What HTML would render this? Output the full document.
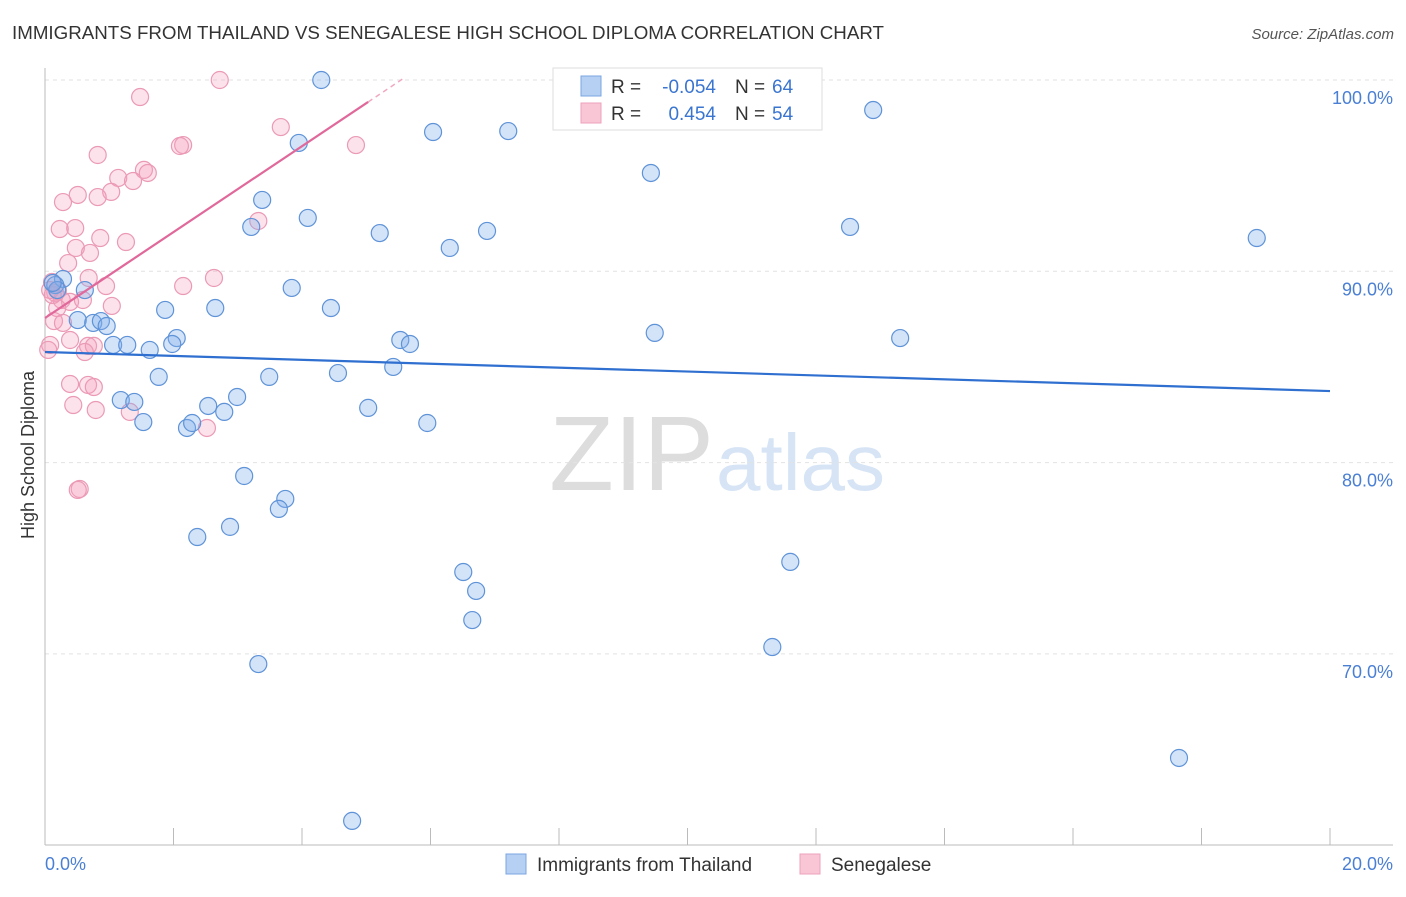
<!DOCTYPE html>
<html><head><meta charset="utf-8"><style>
body{margin:0;background:#fff;font-family:"Liberation Sans",sans-serif}
svg text{font-family:"Liberation Sans",sans-serif}
</style></head><body>
<svg id="c" width="1406" height="892">
<text x="12" y="39" font-size="18" fill="#333" textLength="872" lengthAdjust="spacingAndGlyphs">IMMIGRANTS FROM THAILAND VS SENEGALESE HIGH SCHOOL DIPLOMA CORRELATION CHART</text>
<text x="1394" y="39" font-size="15" fill="#555" text-anchor="end" font-style="italic">Source: ZipAtlas.com</text>
<text x="714" y="490" font-size="106" fill="#ddd" text-anchor="end" font-family="Liberation Serif">ZIP</text>
<text x="716" y="490" font-size="80" fill="#d6e4f5">atlas</text>
<text transform="translate(34,455) rotate(-90)" font-size="18" fill="#333" text-anchor="middle">High School Diploma</text>
<g id="grid"></g><g id="pts"></g><g id="lines"></g>
<g>
<rect x="553" y="68" width="269" height="62" fill="#fff" stroke="#ddd"/>
<rect x="581" y="76" width="20" height="20" fill="#b5d0f3" stroke="#7aa6e0"/>
<rect x="581" y="103" width="20" height="20" fill="#f9c6d6" stroke="#eda0bb"/>
<text x="611" y="93" font-size="19" fill="#333">R =</text>
<text x="716" y="93" font-size="19" fill="#3a75d0" text-anchor="end">-0.054</text>
<text x="735" y="93" font-size="19" fill="#333">N =</text>
<text x="772" y="93" font-size="19" fill="#3a75d0">64</text>
<text x="611" y="120" font-size="19" fill="#333">R =</text>
<text x="716" y="120" font-size="19" fill="#3a75d0" text-anchor="end">0.454</text>
<text x="735" y="120" font-size="19" fill="#333">N =</text>
<text x="772" y="120" font-size="19" fill="#3a75d0">54</text>
</g>
<g>
<rect x="506" y="854" width="20" height="20" fill="#b5d0f3" stroke="#7aa6e0"/>
<text x="537" y="871" font-size="19" fill="#333">Immigrants from Thailand</text>
<rect x="800" y="854" width="20" height="20" fill="#f9c6d6" stroke="#eda0bb"/>
<text x="831" y="871" font-size="19" fill="#333">Senegalese</text>
</g>
</svg>
<script>
const yTicks=[100,90,80,70];
const yTickLabels=["100.0%","90.0%","80.0%","70.0%"];
const xTicks=[0,2,4,6,8,10,12,14,16,18,20];
const blueX=[4.30,8.51,12.89,6.04,7.21,3.95,9.43,3.38,4.09,3.21,5.21,6.88,12.53,6.30,18.86,3.84,0.28,0.16,0.62,1.87,2.65,4.45,0.51,0.75,0.87,0.96,9.49,13.31,5.53,5.68,2.05,1.98,1.06,1.28,1.63,1.77,3.49,4.56,5.42,2.99,1.18,1.39,2.54,2.79,5.03,1.53,2.21,2.29,5.95,3.10,3.74,3.64,2.37,2.88,6.51,6.71,11.60,6.65,11.32,3.32,17.65,4.78,0.19,0.12];
const blueY=[100.0,99.84,98.43,97.28,97.33,96.71,95.14,93.73,92.79,92.32,92.00,92.11,92.32,91.22,91.74,89.13,89.60,89.28,89.02,87.98,88.08,88.08,87.45,87.30,87.40,87.14,86.78,86.51,86.41,86.20,86.51,86.20,86.15,86.15,85.89,84.48,84.48,84.68,85.00,83.43,83.27,83.17,82.96,82.65,82.86,82.12,81.81,82.07,82.07,79.30,78.10,77.58,76.11,76.64,74.28,73.29,74.81,71.77,70.36,69.47,64.56,61.27,89.02,89.39];
const pinkX=[2.72,1.48,3.67,2.15,2.10,4.84,0.82,1.54,1.60,1.14,1.37,1.03,0.51,0.82,0.28,3.32,0.23,0.47,0.86,1.26,0.48,0.70,0.36,2.63,0.68,2.15,0.95,0.11,0.16,0.26,0.39,0.59,1.04,0.19,0.14,0.28,0.39,0.67,0.76,0.62,0.08,0.05,0.39,0.67,0.76,0.44,0.79,1.32,2.52,0.54,0.51,0.08,0.20,0.12];
const pinkY=[100.0,99.11,97.54,96.60,96.55,96.60,96.08,95.30,95.14,94.88,94.72,94.15,93.99,93.88,93.62,92.63,92.21,92.26,91.74,91.53,91.22,90.96,90.43,89.65,89.65,89.23,89.23,89.44,88.87,88.50,88.40,88.50,88.19,88.08,87.40,87.30,86.41,86.10,86.10,85.78,86.15,85.89,84.11,84.06,83.95,83.01,82.75,82.65,81.81,78.62,78.57,89.02,89.02,88.76];
const blueTrend=[85.78,-0.102];
const pinkTrend=[87.56,2.245];
const X=v=>45+v/20*1285, Y=v=>80+(100-v)*19.13;
const ns="http://www.w3.org/2000/svg";
function mk(p,t,a){const e=document.createElementNS(ns,t);for(const k in a)e.setAttribute(k,a[k]);p.appendChild(e);return e;}
const g=document.getElementById('grid');
yTicks.forEach((v,i)=>{
 const l=mk(g,'line',{x1:45,x2:1393,y1:Y(v),y2:Y(v),stroke:'#e2e2e2','stroke-dasharray':'4,4'});
 
 
 const t=mk(g,'text',{x:1393,y:Y(v)+24,'font-size':18,fill:'#4a7fd4','text-anchor':'end'});t.textContent=yTickLabels[i];
 
 
});
mk(g,'line',{x1:45,x2:45,y1:68,y2:845,stroke:'#bbb'});
mk(g,'line',{x1:45,x2:1393,y1:845,y2:845,stroke:'#bbb'});
xTicks.forEach(v=>{const l=mk(g,'line',{x1:X(v),x2:X(v),y1:828,y2:845,stroke:'#bbb'});
 
 });
const t0=mk(g,'text',{x:45,y:870,'font-size':18,fill:'#4a7fd4'});t0.textContent='0.0%';


const t1=mk(g,'text',{x:1393,y:870,'font-size':18,fill:'#4a7fd4','text-anchor':'end'});t1.textContent='20.0%';


const p=document.getElementById('pts');
pinkX.forEach((x,i)=>{const c=mk(p,'circle',{cx:X(x),cy:Y(pinkY[i]),r:8.5,fill:'rgba(245,160,190,0.3)',stroke:'#eb9ab6','stroke-width':1.2});
 
 });
blueX.forEach((x,i)=>{const c=mk(p,'circle',{cx:X(x),cy:Y(blueY[i]),r:8.5,fill:'rgba(130,175,235,0.35)',stroke:'#5f93d8','stroke-width':1.2});
 
 });
const L=document.getElementById('lines');
const bl=mk(L,'line',{x1:X(0),y1:Y(blueTrend[0]),x2:X(20),y2:Y(blueTrend[0]+20*blueTrend[1]),stroke:'#2f6fd0','stroke-width':2.2});


const pl=mk(L,'line',{x1:X(0),y1:Y(pinkTrend[0]),x2:X(5.03),y2:Y(pinkTrend[0]+5.03*pinkTrend[1]),stroke:'#e0689a','stroke-width':2.2});


const pd=mk(L,'line',{x1:X(5.03),y1:Y(pinkTrend[0]+5.03*pinkTrend[1]),x2:X(5.6),y2:Y(pinkTrend[0]+5.6*pinkTrend[1]),stroke:'#f0a8c2','stroke-width':1.5,'stroke-dasharray':'5,4'});


</script>
</body></html>
